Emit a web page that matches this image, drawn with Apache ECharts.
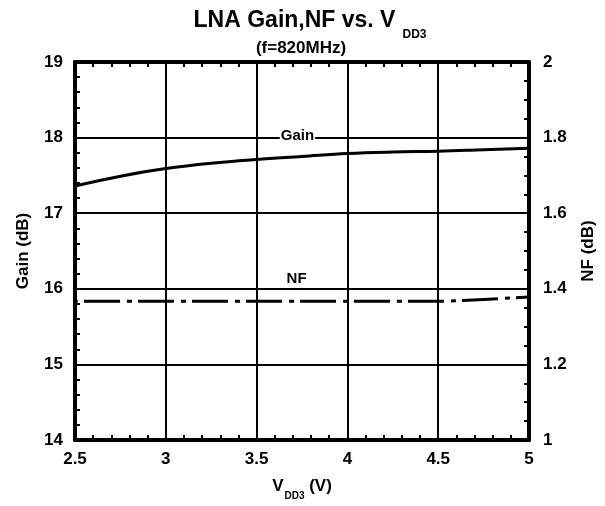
<!DOCTYPE html>
<html>
<head>
<meta charset="utf-8">
<script src="https://cdn.jsdelivr.net/npm/echarts@6/dist/echarts.min.js"></script>
<style>html,body{margin:0;padding:0;background:#fff}#c{width:605px;height:506px}</style>
</head>
<body>
<div id="c"></div>
<script>
var vdd = [2.5, 2.75, 3, 3.25, 3.5, 3.75, 4, 4.25, 4.5, 4.75, 5];
var gain = [17.36, 17.49, 17.59, 17.66, 17.71, 17.75, 17.79, 17.81, 17.82, 17.84, 17.86];
var nf = [1.367, 1.367, 1.367, 1.367, 1.367, 1.367, 1.367, 1.367, 1.367, 1.372, 1.378];
var xTicks = ['2.5', '3', '3.5', '4', '4.5', '5'];
var gainTicks = ['14', '15', '16', '17', '18', '19'];
var nfTicks = ['1', '1.2', '1.4', '1.6', '1.8', '2'];

var FONT = 'Liberation Sans, Arial, sans-serif';
var chart = echarts.init(document.getElementById('c'));
function pair(xs, ys) { return xs.map(function (x, i) { return [x, ys[i]]; }); }

var lbl = { fontFamily: FONT, fontWeight: 'bold', fontSize: 17, color: '#000' };
var tickIn = { show: false, inside: true };
var minor = function (n) { return { show: true, splitNumber: n, length: 5, lineStyle: { color: '#000', width: 2 } }; };
var frame = { show: true, onZero: false, lineStyle: { color: '#000', width: 4 } };
chart.setOption({
  animation: false,
  backgroundColor: '#fff',
  title: [{
    left: 305, top: 4, textAlign: 'center',
    text: '{a|LNA Gain,NF vs. V}{b|DD3}',
    textStyle: {
      rich: {
        a: { fontFamily: FONT, fontWeight: 'bold', fontSize: 23, color: '#000', lineHeight: 27, verticalAlign: 'top' },
        b: { fontFamily: FONT, fontWeight: 'bold', fontSize: 12, color: '#000', lineHeight: 27, verticalAlign: 'top', padding: [20, 0, 0, 7] }
      }
    }
  }, {
    left: 296, top: 35, textAlign: 'center',
    text: '(f=820MHz)',
    textStyle: { fontFamily: FONT, fontWeight: 'bold', fontSize: 17, color: '#000' }
  }],
  grid: { left: 75, right: 75, top: 62, bottom: 63, containLabel: false },
  xAxis: [{
    type: 'value', min: 2.5, max: 5, interval: 0.5, position: 'bottom',
    axisLine: frame, axisTick: tickIn, minorTick: minor(5),
    axisLabel: Object.assign({ margin: 11, formatter: function (v) { return xTicks[Math.round((v - 2.5) / 0.5)]; } }, lbl),
    splitLine: { show: true, lineStyle: { color: '#000', width: 2 } },
    name: '{v|V}{s|DD3}{v| (V)}', nameLocation: 'middle', nameGap: 38,
    nameTextStyle: {
      rich: {
        v: { fontFamily: FONT, fontWeight: 'bold', fontSize: 17, color: '#000', lineHeight: 20, verticalAlign: 'top' },
        s: { fontFamily: FONT, fontWeight: 'bold', fontSize: 10, color: '#000', lineHeight: 20, verticalAlign: 'top', padding: [13, 0, 0, 1] }
      }
    }
  }, {
    type: 'value', min: 2.5, max: 5, interval: 0.5, position: 'top',
    axisLine: frame, axisTick: tickIn, minorTick: minor(5),
    axisLabel: { show: false },
    splitLine: { show: false }
  }],
  yAxis: [{
    type: 'value', min: 14, max: 19, interval: 1, position: 'left',
    axisLine: frame, axisTick: tickIn, minorTick: minor(5),
    axisLabel: Object.assign({ margin: 12, formatter: function (v) { return gainTicks[Math.round(v - 14)]; } }, lbl),
    splitLine: { show: true, lineStyle: { color: '#000', width: 2 } },
    name: 'Gain (dB)', nameLocation: 'middle', nameGap: 43, nameRotate: 90,
    nameTextStyle: { fontFamily: FONT, fontWeight: 'bold', fontSize: 17, color: '#000' }
  }, {
    type: 'value', min: 1, max: 2, interval: 0.2, position: 'right',
    axisLine: frame, axisTick: tickIn, minorTick: minor(4),
    axisLabel: Object.assign({ margin: 14, formatter: function (v) { return nfTicks[Math.round((v - 1) / 0.2)]; } }, lbl),
    splitLine: { show: false },
    name: 'NF (dB)', nameLocation: 'middle', nameGap: 51, nameRotate: 90,
    nameTextStyle: { fontFamily: FONT, fontWeight: 'bold', fontSize: 17, color: '#000' }
  }],
  series: [{
    name: 'Gain', type: 'line', xAxisIndex: 0, yAxisIndex: 0,
    data: pair(vdd, gain), smooth: 0.4, symbol: 'none',
    lineStyle: { color: '#000', width: 3 },
    markPoint: {
      symbol: 'circle', symbolSize: 0,
      label: { show: true, position: 'inside', formatter: 'Gain', fontFamily: FONT, fontWeight: 'bold', fontSize: 15, color: '#000', backgroundColor: '#fff', padding: [3, 1, 3, 1] },
      data: [{ coord: [3.725, 18.02] }]
    }
  }, {
    name: 'NF', type: 'line', xAxisIndex: 0, yAxisIndex: 1,
    data: pair(vdd, nf), smooth: 0.3, symbol: 'none',
    lineStyle: { color: '#000', width: 3, type: [36, 7, 5, 6], dashOffset: -9 },
    markPoint: {
      symbol: 'circle', symbolSize: 0,
      label: { show: true, position: 'inside', formatter: 'NF', fontFamily: FONT, fontWeight: 'bold', fontSize: 15, color: '#000' },
      data: [{ coord: [3.72, 1.425] }]
    }
  }]
});
</script>
</body>
</html>
